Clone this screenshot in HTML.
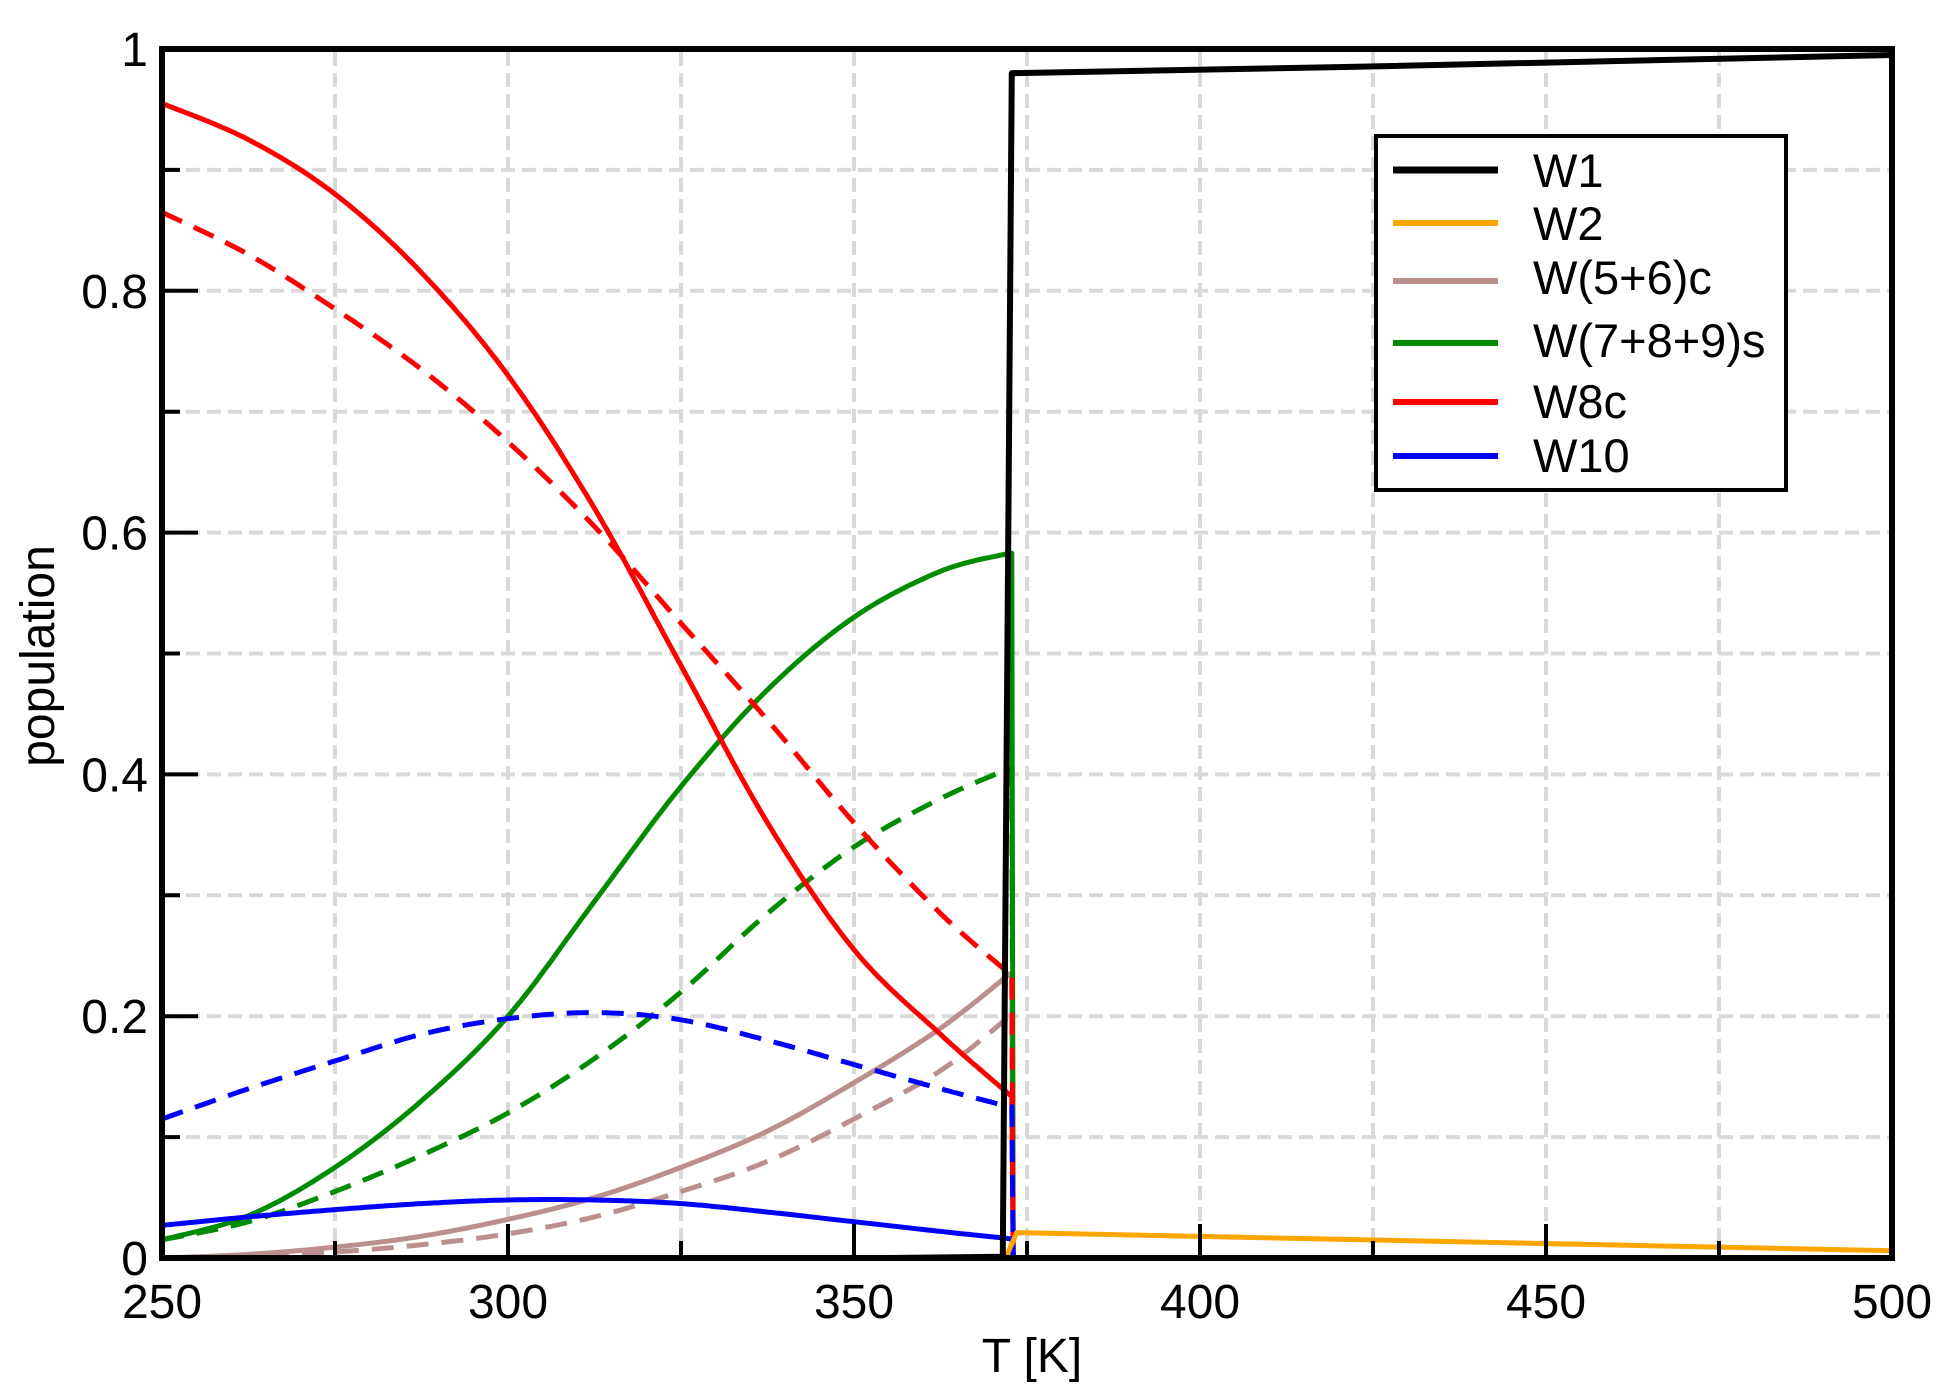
<!DOCTYPE html>
<html><head><meta charset="utf-8"><style>
html,body{margin:0;padding:0;background:#fff;}
svg{display:block;font-family:"Liberation Sans",sans-serif;}
</style></head><body>
<svg id="s" width="1950" height="1393" viewBox="0 0 1950 1393" xmlns="http://www.w3.org/2000/svg">
<rect width="1950" height="1393" fill="#fff"/>
<g id="grid" stroke="#d9d9d9" stroke-width="4" stroke-dasharray="14 7"></g>
<g id="curves" fill="none" stroke-width="5" stroke-linejoin="round"></g>
<g id="ticks" stroke="#000" stroke-width="4"></g>
<rect x="162" y="49" width="1730" height="1209" fill="none" stroke="#000" stroke-width="6"/>
<g id="labels" font-size="48" fill="#000"></g>
<text x="1032" y="1372" font-size="48" text-anchor="middle">T [K]</text>
<text transform="translate(54,656) rotate(-90)" font-size="48" text-anchor="middle">population</text>
<g>
<rect x="1376" y="136" width="410" height="354" fill="#fff" stroke="#000" stroke-width="4"/>
<g stroke-width="6">
<line x1="1393" x2="1498" y1="170" y2="170" stroke="#000" stroke-width="7"/>
<line x1="1393" x2="1498" y1="223" y2="223" stroke="#ffa500"/>
<line x1="1393" x2="1498" y1="281" y2="281" stroke="#bc8f8f"/>
<line x1="1393" x2="1498" y1="343" y2="343" stroke="#008b00"/>
<line x1="1393" x2="1498" y1="402" y2="402" stroke="#ff0000"/>
<line x1="1393" x2="1498" y1="456" y2="456" stroke="#0000ff"/>
</g>
<g font-size="47">
<text x="1533" y="187">W1</text>
<text x="1533" y="240">W2</text>
<text x="1533" y="294">W(5+6)c</text>
<text x="1533" y="357">W(7+8+9)s</text>
<text x="1533" y="418">W8c</text>
<text x="1533" y="472">W10</text>
</g>
</g>
</svg>
<script>
var NS="http://www.w3.org/2000/svg";
function X(t){return 162+(t-250)*6.92;}
function Y(v){return 1258-v*1209;}
function el(p,n,a){var e=document.createElementNS(NS,n);for(var k in a)e.setAttribute(k,a[k]);p.appendChild(e);return e;}
var grid=document.getElementById('grid'),ticks=document.getElementById('ticks'),labels=document.getElementById('labels');
for(var t=275;t<500;t+=25)el(grid,'line',{x1:X(t),x2:X(t),y1:52,y2:1255});
for(var i=1;i<10;i++)el(grid,'line',{x1:165,x2:1889,y1:Y(i/10),y2:Y(i/10)});
for(var t=250;t<=500;t+=25){var maj=(t%50==0);el(ticks,'line',{x1:X(t),x2:X(t),y1:1258,y2:1258-(maj?34:17)});
 if(maj){var tx=el(labels,'text',{x:X(t),y:1318,'text-anchor':'middle'});tx.textContent=t;}}
for(var i=0;i<=10;i++){var maj=(i%2==0);el(ticks,'line',{x1:162,x2:162+(maj?36:18),y1:Y(i/10),y2:Y(i/10)});
 if(maj){var tx=el(labels,'text',{x:148,y:Y(i/10)+17,'text-anchor':'end'});tx.textContent=(i==0?'0':i==10?'1':(i/10).toString());}}
function spline(pts){var out=[];for(var i=0;i<pts.length-1;i++){var p0=pts[Math.max(i-1,0)],p1=pts[i],p2=pts[i+1],p3=pts[Math.min(i+2,pts.length-1)];
 for(var s=0;s<20;s++){var u=s/20,u2=u*u,u3=u2*u;
 var f=function(a,b,c,d){return 0.5*((2*b)+(-a+c)*u+(2*a-5*b+4*c-d)*u2+(-a+3*b-3*c+d)*u3);};
 out.push([f(p0[0],p1[0],p2[0],p3[0]),f(p0[1],p1[1],p2[1],p3[1])]);}}
 out.push(pts[pts.length-1]);return out;}
var T=[250,262.5,275,287.5,300,312.5,325,337.5,350,362.5,372.5];
var curves=document.getElementById('curves');
function draw(vals,color,dash){var pts=vals.map(function(v,i){return [X(T[i]),Y(v)];});var sp=spline(pts);
 var last=vals[vals.length-1];sp.push([X(372.8),Y(last)]);sp.push([X(373),Y(0)]);
 var d='M'+sp.map(function(p){return p[0].toFixed(1)+','+p[1].toFixed(1);}).join('L');
 var a={d:d,stroke:color};if(dash)a['stroke-dasharray']='22 13';el(curves,'path',a);}
draw([0,.002,.005,.011,.02,.034,.055,.08,.115,.155,.2],'#bc8f8f',1);
draw([0,.003,.009,.018,.032,.05,.075,.105,.145,.19,.235],'#bc8f8f',0);
draw([.015,.03,.055,.085,.12,.165,.22,.285,.34,.38,.405],'#008b00',1);
draw([.015,.035,.075,.13,.2,.295,.39,.47,.53,.568,.583],'#008b00',0);
draw([.865,.83,.785,.735,.675,.605,.525,.445,.36,.285,.235],'#ff0000',1);
draw([.955,.925,.88,.815,.73,.62,.49,.36,.255,.185,.135],'#ff0000',0);
draw([.115,.14,.163,.185,.198,.203,.197,.18,.16,.14,.125],'#0000ff',1);
draw([.027,.034,.04,.045,.048,.048,.045,.038,.03,.022,.016],'#0000ff',0);
el(curves,'path',{d:'M'+X(372)+','+Y(0.001)+'L'+X(373.5)+','+Y(0.021)+'L'+X(500)+','+Y(0.006),stroke:'#ffa500'});
el(curves,'path',{d:'M'+X(355)+','+Y(0)+'L'+X(371.5)+','+Y(0.001)+'L'+X(372.8)+','+Y(0.98)+'L'+X(420)+','+Y(0.985)+'L'+X(500)+','+Y(0.995),stroke:'#000','stroke-width':6});
</script>
</body></html>
